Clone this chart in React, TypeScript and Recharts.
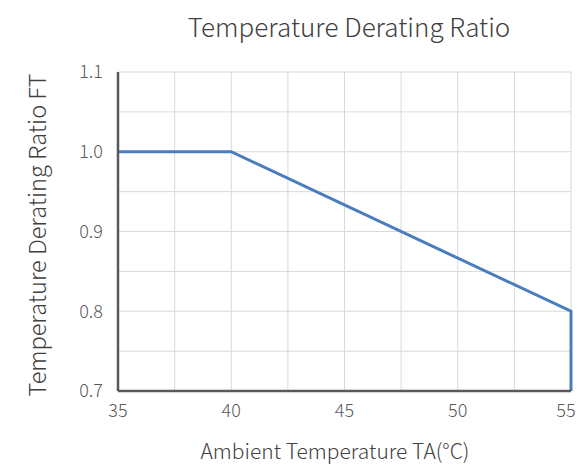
import React from 'react';
import { LineChart, Line, XAxis, YAxis, CartesianGrid } from 'recharts';

// derating curve: ambient temperature (°C) vs ratio FT
const temps = [35, 40, 55, 55];
const ratios = [1.0, 1.0, 0.8, 0.7];

const xTicks = [35, 37.5, 40, 42.5, 45, 47.5, 50, 52.5, 55];
const yTicks = [0.7, 0.75, 0.8, 0.85, 0.9, 0.95, 1.0, 1.05, 1.1];

const title = 'Temperature Derating Ratio';
const xTitle = 'Ambient Temperature TA(°C)';
const yTitle = 'Temperature Derating Ratio FT';

const font = '"Noto Sans CJK SC", "Noto Sans", sans-serif';
const tickColor = '#595959';

// x tick labels only on whole multiples of 5; keep the last one inside the frame
const XTick = (props: any) => {
  const { x, y, payload } = props;
  const v = payload.value as number;
  if (v % 5 !== 0) return null;
  const cx = Math.min(x, 577 - 11);
  return (
    <text x={cx} y={y + 20} textAnchor="middle" fontSize={18} fill={tickColor} fontFamily={font} fontWeight={300}>
      {String(v)}
    </text>
  );
};

const App: React.FC = () => {
  const data = temps.map((t, i) => ({ t, ratio: ratios[i] }));

  return (
    <div style={{ position: 'absolute', left: 0, top: 0, width: 577, height: 467, background: '#fff', fontFamily: font }}>
      <LineChart width={577} height={467} data={data} margin={{ top: 72, right: 6, left: 0, bottom: 0 }}>
        <CartesianGrid stroke="#d9d9d9" strokeWidth={1} />
        <XAxis
          dataKey="t"
          type="number"
          domain={[35, 55]}
          ticks={xTicks}
          interval={0}
          axisLine={{ stroke: tickColor, strokeWidth: 2.5 }}
          tickLine={false}
          tick={<XTick />}
          tickMargin={0}
          height={76}
        />
        <YAxis
          type="number"
          domain={[0.7, 1.1]}
          ticks={yTicks}
          interval={0}
          tickFormatter={(v: number) => (Math.round(v * 100) % 10 === 0 ? v.toFixed(1) : '')}
          axisLine={{ stroke: tickColor, strokeWidth: 2.5 }}
          tickLine={false}
          tick={{ fill: tickColor, fontSize: 18, fontFamily: font, fontWeight: 300 }}
          tickMargin={9}
          width={118}
        />
        <Line
          type="linear"
          dataKey="ratio"
          stroke="#4a7cc0"
          strokeWidth={3}
          dot={false}
          isAnimationActive={false}
        />
      </LineChart>
      <svg width={577} height={467} style={{ position: 'absolute', left: 0, top: 0, pointerEvents: 'none' }}>
        <text x={349} y={37} textAnchor="middle" fontSize={26} fill="#404040" fontFamily={font} fontWeight={300}>
          {title}
        </text>
        <text x={335} y={459} textAnchor="middle" fontSize={21} fill="#404040" fontFamily={font} fontWeight={300}>
          {xTitle}
        </text>
        <text
          x={0}
          y={0}
          transform="translate(46 235) rotate(-90)"
          textAnchor="middle"
          fontSize={23.5}
          fill="#404040"
          fontFamily={font}
          fontWeight={300}
        >
          {yTitle}
        </text>
      </svg>
    </div>
  );
};

export default App;
